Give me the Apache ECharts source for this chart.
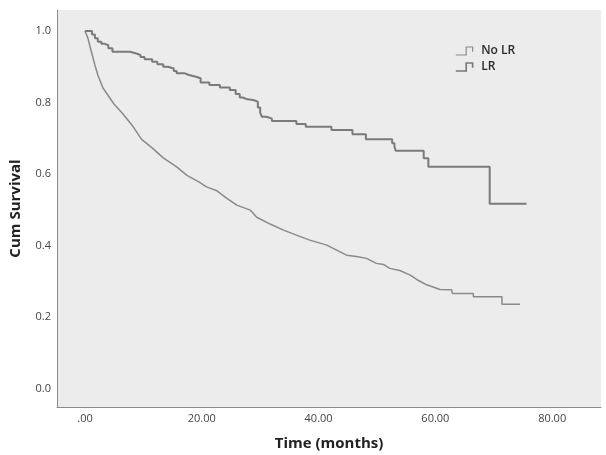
<!DOCTYPE html>
<html>
<head>
<meta charset="utf-8">
<script src="https://cdn.jsdelivr.net/npm/echarts@6/dist/echarts.min.js"></script>
<style>
html,body{margin:0;padding:0;background:#fff;}
#chart{width:606px;height:455px;}
</style>
</head>
<body>
<div id="chart"></div>
<script>
// Series names
const seriesNames = ['No LR', 'LR'];

// LR group (upper curve): event times (months) and survival after each event
const lrTime = [0, 1.2, 1.7, 2.2, 2.8, 3.4, 4.0, 4.7, 7.7, 8.8, 9.5, 10.2, 11.5, 12.4, 13.4, 14.2, 15.2, 15.7, 17.0, 17.8, 19.0, 19.8, 21.3, 23.1, 24.8, 25.8, 26.5, 27.0, 27.6, 29.0, 29.6, 30.0, 30.3, 31.1, 32.0, 36.2, 37.8, 42.2, 45.8, 48.1, 52.6, 53.0, 53.2, 58.0, 58.8, 69.3, 75.6];
const lrSurv = [1.0, 0.990, 0.980, 0.970, 0.964, 0.960, 0.952, 0.942, 0.937, 0.933, 0.927, 0.921, 0.914, 0.907, 0.900, 0.895, 0.888, 0.882, 0.877, 0.872, 0.868, 0.856, 0.849, 0.842, 0.835, 0.824, 0.814, 0.810, 0.806, 0.802, 0.786, 0.772, 0.760, 0.755, 0.748, 0.740, 0.732, 0.723, 0.711, 0.697, 0.686, 0.676, 0.665, 0.644, 0.620, 0.517, 0.517];

// No LR group (lower curve): points (tail corners included)
const noLrTime = [0, 0.5, 1.1, 1.7, 2.2, 3.1, 3.9, 5.0, 6.4, 8.0, 9.7, 11.5, 13.4, 15.7, 17.4, 19.7, 20.8, 22.6, 24.3, 26.0, 28.3, 29.4, 31.7, 34.0, 36.2, 38.5, 41.4, 43.1, 44.8, 46.5, 48.2, 49.9, 51.1, 52.2, 53.9, 55.7, 56.8, 58.5, 60.8, 62.8, 62.9, 66.5, 66.5, 71.4, 71.4, 74.5];
const noLrSurv = [1.0, 0.980, 0.942, 0.905, 0.877, 0.840, 0.821, 0.795, 0.770, 0.738, 0.697, 0.673, 0.645, 0.620, 0.597, 0.576, 0.564, 0.553, 0.532, 0.513, 0.499, 0.479, 0.460, 0.443, 0.429, 0.415, 0.401, 0.387, 0.373, 0.369, 0.364, 0.350, 0.347, 0.336, 0.330, 0.317, 0.305, 0.290, 0.277, 0.276, 0.266, 0.266, 0.257, 0.257, 0.236, 0.236];

// Tick values
const xTicks = [0, 20, 40, 60, 80];
const yTicks = [0, 0.2, 0.4, 0.6, 0.8, 1.0];

const lrData = lrTime.map((t, i) => [t, lrSurv[i]]);
const noLrData = noLrTime.map((t, i) => [t, noLrSurv[i]]);

const chart = echarts.init(document.getElementById('chart'), null, {renderer: 'canvas'});
const stepIcon = 'path://M0,10L13,10L13,0L21,0L21,6';
chart.setOption({
  animation: false,
  backgroundColor: '#ffffff',
  textStyle: {fontFamily: 'Open Sans'},
  grid: {
    left: 57, right: 5, top: 10, bottom: 48,
    outerBoundsMode: 'none',
    containLabel: false,
    show: true, backgroundColor: '#ececec', borderWidth: 0
  },
  legend: {
    orient: 'vertical',
    left: 455, top: 45,
    padding: 0,
    itemWidth: 24, itemHeight: 8, itemGap: 4,
    textStyle: {fontFamily: 'Open Sans', fontSize: 12, color: '#2a2a2a', fontWeight: 600},
    data: [
      {name: seriesNames[0], icon: stepIcon, itemStyle: {color: 'transparent', borderColor: '#8a8a8a', borderWidth: 1.2}},
      {name: seriesNames[1], icon: stepIcon, itemStyle: {color: 'transparent', borderColor: '#777', borderWidth: 1.6}}
    ]
  },
  xAxis: {
    type: 'value',
    min: -4.79, max: 88.36,
    name: 'Time (months)',
    nameLocation: 'middle',
    nameGap: 29,
    nameTextStyle: {fontFamily: 'Open Sans', fontSize: 15, fontWeight: 'bold', color: '#222'},
    axisLine: {show: true, onZero: false, lineStyle: {color: '#8c8c8c', width: 1}},
    axisTick: {show: false},
    splitLine: {show: false},
    axisLabel: {
      customValues: xTicks,
      margin: 6,
      fontFamily: 'Open Sans', fontSize: 11, color: '#444',
      formatter: v => v === 0 ? '.00' : v.toFixed(2)
    }
  },
  yAxis: {
    type: 'value',
    min: -0.0517, max: 1.0587,
    name: 'Cum Survival',
    nameLocation: 'middle',
    nameGap: 34,
    nameRotate: 90,
    nameTextStyle: {fontFamily: 'Open Sans', fontSize: 15, fontWeight: 'bold', color: '#222'},
    axisLine: {show: true, onZero: false, lineStyle: {color: '#8c8c8c', width: 1}},
    axisTick: {show: false},
    splitLine: {show: false},
    axisLabel: {
      customValues: yTicks,
      margin: 6,
      fontFamily: 'Open Sans', fontSize: 11, color: '#444',
      formatter: v => v.toFixed(1)
    }
  },
  series: [
    {
      name: seriesNames[0], type: 'line', data: noLrData,
      showSymbol: false, symbol: 'none',
      lineStyle: {color: '#8a8a8a', width: 1.5},
      itemStyle: {color: '#8a8a8a'}
    },
    {
      name: seriesNames[1], type: 'line', data: lrData, step: 'end',
      showSymbol: false, symbol: 'none',
      lineStyle: {color: '#7a7a7a', width: 2},
      itemStyle: {color: '#7a7a7a'}
    }
  ]
});
</script>
</body>
</html>
